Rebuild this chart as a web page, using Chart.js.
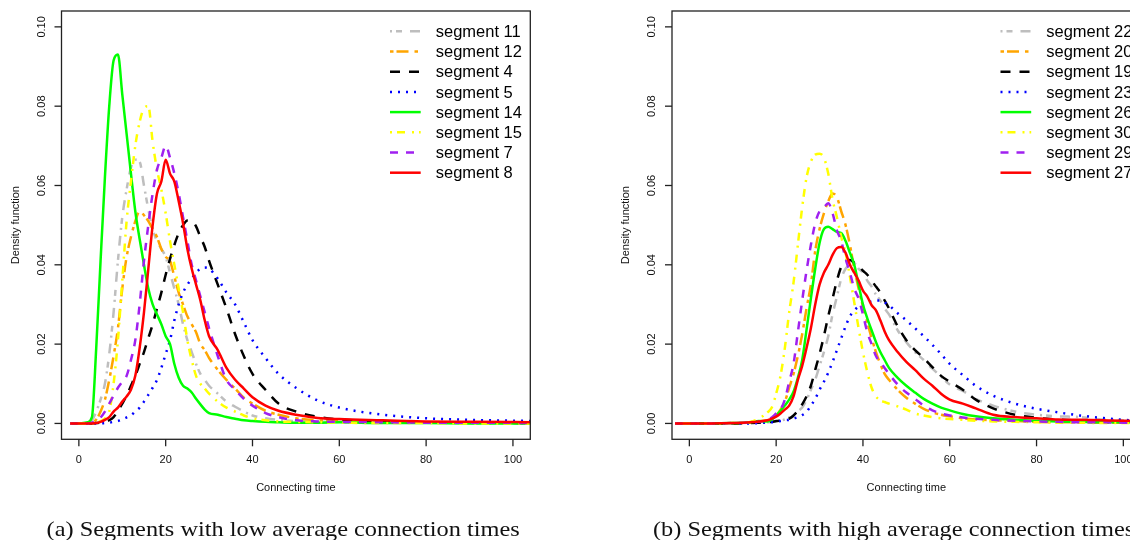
<!DOCTYPE html>
<html>
<head>
<meta charset="utf-8">
<script src="https://cdn.jsdelivr.net/npm/chart.js@4.4.1/dist/chart.umd.min.js"></script>
<style>
  html, body { margin: 0; padding: 0; background: #fff; }
  #page { position: relative; width: 1130px; height: 540px; overflow: hidden; }
  canvas { position: absolute; top: 0; }
  #cvLow { left: 0; }
  #cvHigh { left: 565px; }
  .caption {
    position: absolute; top: 519px; white-space: nowrap;
    font-family: "Liberation Serif", "Times New Roman", serif;
    font-size: 21px; line-height: 21px; color: #111;
    transform-origin: center top;
  }
</style>
</head>
<body>
<div id="page">
  <canvas id="cvLow" width="565" height="540"></canvas>
  <canvas id="cvHigh" width="600" height="540"></canvas>
  <div class="caption" id="capLow">(a) Segments with low average connection times</div>
  <div class="caption" id="capHigh">(b) Segments with high average connection times</div>
</div>
<script>
// ---- data ----
const xTicks = [0, 20, 40, 60, 80, 100];
const yTicks = [0, 0.02, 0.04, 0.06, 0.08, 0.10];
const yTickLabels = ['0.00', '0.02', '0.04', '0.06', '0.08', '0.10'];
const xTitle = 'Connecting time';
const yTitle = 'Density function';

// panel (a)
const lowLabels = ['segment 11', 'segment 12', 'segment 4', 'segment 5', 'segment 14', 'segment 15', 'segment 7', 'segment 8'];
const lowX = [-2, 0, 2, 3, 4, 5, 6, 7, 8, 9, 10, 11, 12, 13, 14, 15, 16, 17, 18, 19, 20, 21, 22, 23, 24, 25, 26, 27, 28, 29,
  30, 32, 34, 36, 38, 40, 43, 46, 50, 55, 60, 70, 80, 90, 106];
const seg11 = [0, 0, 0.0002, 0.0008, 0.003, 0.006, 0.010, 0.0175, 0.028, 0.041, 0.052, 0.059, 0.0645, 0.0665, 0.066, 0.060, 0.054, 0.049, 0.046, 0.044,
  0.042, 0.038, 0.034, 0.030, 0.025, 0.021, 0.018, 0.015, 0.0125, 0.011, 0.0095, 0.0075, 0.0055, 0.0042, 0.003, 0.002, 0.0013, 0.0009, 0.0006, 0.0004,
  0.0004, 0.0002, 0.0002, 0.0001, 0.0001];
const seg12 = [0, 0, 0, 0.0002, 0.001, 0.003, 0.006, 0.011, 0.017, 0.024, 0.034, 0.042, 0.047, 0.051, 0.0535, 0.0525, 0.051, 0.049, 0.047, 0.044,
  0.042, 0.041, 0.037, 0.033, 0.030, 0.027, 0.025, 0.023, 0.020, 0.0185, 0.0165, 0.0135, 0.011, 0.0088, 0.0065, 0.005, 0.0032, 0.0022, 0.0013, 0.0008,
  0.0006, 0.0004, 0.0003, 0.0002, 0.0001];
const seg4 = [0, 0, 0, 0, 0.0001, 0.0002, 0.0004, 0.0008, 0.0016, 0.0032, 0.005, 0.007, 0.0095, 0.012, 0.015, 0.018, 0.0215, 0.025, 0.029, 0.033,
  0.0375, 0.0415, 0.045, 0.048, 0.050, 0.0512, 0.051, 0.0497, 0.047, 0.0445, 0.041, 0.035, 0.029, 0.0225, 0.017, 0.0125, 0.0085, 0.005, 0.003, 0.0017,
  0.001, 0.0005, 0.0003, 0.0002, 0.0001];
const seg5 = [0, 0, 0, 0, 0, 0, 0.0001, 0.0002, 0.0004, 0.0006, 0.001, 0.0015, 0.002, 0.003, 0.004, 0.0055, 0.0072, 0.009, 0.011, 0.014,
  0.0175, 0.021, 0.026, 0.030, 0.033, 0.035, 0.0365, 0.038, 0.039, 0.0393, 0.039, 0.0365, 0.033, 0.030, 0.0255, 0.021, 0.0165, 0.0125, 0.009, 0.0058,
  0.004, 0.0022, 0.0013, 0.0009, 0.0006];
const seg14 = [0, 0, 0.0003, 0.0015, 0.019, 0.041, 0.062, 0.080, 0.0915, 0.093, 0.083, 0.073, 0.063, 0.0535, 0.0465, 0.040, 0.034, 0.030, 0.0275, 0.025,
  0.022, 0.020, 0.015, 0.0115, 0.0095, 0.0088, 0.0078, 0.0062, 0.0048, 0.0035, 0.0026, 0.0022, 0.0016, 0.0012, 0.0008, 0.0006, 0.0004, 0.0003, 0.0002, 0.0002,
  0.0003, 0.0001, 0.0001, 0, 0];
const seg15 = [0, 0, 0, 0, 0.0002, 0.0006, 0.0012, 0.003, 0.010, 0.021, 0.036, 0.051, 0.061, 0.070, 0.076, 0.0795, 0.080, 0.071, 0.064, 0.059,
  0.053, 0.046, 0.040, 0.034, 0.028, 0.021, 0.016, 0.012, 0.010, 0.0088, 0.0075, 0.0055, 0.004, 0.003, 0.002, 0.0013, 0.0008, 0.0005, 0.0004, 0.0003,
  0.0002, 0.0001, 0.0001, 0, 0];
const seg7 = [0, 0, 0, 0.0002, 0.0006, 0.0015, 0.003, 0.005, 0.007, 0.009, 0.0105, 0.012, 0.016, 0.021, 0.030, 0.041, 0.050, 0.058, 0.064, 0.067,
  0.070, 0.067, 0.063, 0.058, 0.052, 0.046, 0.040, 0.036, 0.032, 0.028, 0.024, 0.017, 0.011, 0.0085, 0.0062, 0.0045, 0.0026, 0.0016, 0.0008, 0.0005,
  0.0004, 0.0003, 0.0002, 0.0002, 0.0001];
const seg8 = [0, 0, 0, 0, 0.0001, 0.0004, 0.0009, 0.0016, 0.003, 0.004, 0.0055, 0.0068, 0.0085, 0.012, 0.019, 0.028, 0.039, 0.050, 0.058, 0.061,
  0.0665, 0.063, 0.061, 0.056, 0.0505, 0.044, 0.039, 0.035, 0.031, 0.026, 0.022, 0.0185, 0.014, 0.011, 0.0088, 0.0066, 0.0045, 0.0032, 0.0022, 0.0014,
  0.0011, 0.0008, 0.0005, 0.0004, 0.0003];

// panel (b)
const highLabels = ['segment 22', 'segment 20', 'segment 19', 'segment 23', 'segment 26', 'segment 30', 'segment 29', 'segment 27'];
const highX = [-3.3, 0, 5, 10, 14, 16, 18, 19, 20, 21, 22, 23, 24, 25, 26, 27, 28, 29, 30, 31, 32, 33, 34, 35, 36, 37, 38, 39, 40, 41,
  42, 43, 44, 45, 46, 48, 50, 52, 54, 56, 58, 60, 63, 66, 70, 75, 80, 85, 90, 95, 100, 106];
const seg22 = [0, 0, 0, 0, 0.0001, 0.0002, 0.0003, 0.0004, 0.0005, 0.0007, 0.001, 0.0015, 0.0018, 0.003, 0.004, 0.0059, 0.0085, 0.011, 0.0145, 0.018,
  0.022, 0.0275, 0.032, 0.0365, 0.039, 0.040, 0.0403, 0.039, 0.038, 0.036, 0.0345, 0.0325, 0.031, 0.029, 0.0275, 0.0235, 0.0205, 0.018, 0.016, 0.0138,
  0.0118, 0.0098, 0.0082, 0.0062, 0.0045, 0.003, 0.0022, 0.0018, 0.0016, 0.001, 0.0008, 0.0006];
const seg20 = [0, 0, 0, 0, 0.0002, 0.0005, 0.0008, 0.001, 0.002, 0.0035, 0.0055, 0.009, 0.0125, 0.017, 0.0225, 0.029, 0.035, 0.0435, 0.049, 0.053,
  0.056, 0.058, 0.057, 0.0535, 0.050, 0.045, 0.039, 0.034, 0.0295, 0.0255, 0.0215, 0.018, 0.015, 0.0125, 0.011, 0.0085, 0.0065, 0.005, 0.0037, 0.0028,
  0.0022, 0.0018, 0.0013, 0.001, 0.0008, 0.0006, 0.0004, 0.0003, 0.0003, 0.0002, 0.0002, 0.0001];
const seg19 = [0, 0, 0, 0, 0.0001, 0.0002, 0.0003, 0.0004, 0.0006, 0.0007, 0.0008, 0.0012, 0.002, 0.0032, 0.0048, 0.0068, 0.0095, 0.0135, 0.0175, 0.022,
  0.027, 0.0315, 0.036, 0.0395, 0.041, 0.0412, 0.0405, 0.0397, 0.0385, 0.0375, 0.036, 0.0345, 0.033, 0.031, 0.029, 0.0245, 0.021, 0.0185, 0.0165, 0.0142,
  0.012, 0.0105, 0.0085, 0.006, 0.0038, 0.0022, 0.0014, 0.001, 0.0007, 0.0005, 0.0004, 0.0003];
const seg23 = [0, 0, 0, 0, 0, 0.0001, 0.0002, 0.0003, 0.0004, 0.0006, 0.0008, 0.0009, 0.0012, 0.0016, 0.0021, 0.0029, 0.0045, 0.0062, 0.0085, 0.0105,
  0.0128, 0.0155, 0.0185, 0.0215, 0.0245, 0.027, 0.0285, 0.0295, 0.030, 0.0305, 0.0308, 0.031, 0.031, 0.0305, 0.0298, 0.0278, 0.026, 0.024, 0.022, 0.0198,
  0.0175, 0.015, 0.0122, 0.0095, 0.007, 0.005, 0.0037, 0.0028, 0.002, 0.0014, 0.0009, 0.0007];
const seg26 = [0, 0, 0, 0.0001, 0.0003, 0.0006, 0.0005, 0.001, 0.002, 0.0032, 0.0045, 0.006, 0.008, 0.0115, 0.016, 0.0236, 0.0315, 0.039, 0.0455, 0.049,
  0.0496, 0.049, 0.0483, 0.048, 0.046, 0.043, 0.040, 0.035, 0.030, 0.0265, 0.0235, 0.0205, 0.018, 0.016, 0.014, 0.0115, 0.0095, 0.0078, 0.0062, 0.005,
  0.004, 0.0033, 0.0024, 0.0018, 0.0013, 0.0009, 0.0007, 0.0005, 0.0004, 0.0003, 0.0003, 0.0002];
const seg30 = [0, 0, 0, 0.0001, 0.0004, 0.0012, 0.0028, 0.004, 0.0075, 0.012, 0.019, 0.028, 0.0355, 0.045, 0.0545, 0.062, 0.066, 0.0678, 0.068, 0.067,
  0.063, 0.0565, 0.052, 0.047, 0.043, 0.037, 0.0305, 0.024, 0.018, 0.013, 0.009, 0.0068, 0.0058, 0.0054, 0.005, 0.0043, 0.0035, 0.0025, 0.002, 0.0016,
  0.0013, 0.0011, 0.0009, 0.0007, 0.0005, 0.0004, 0.0003, 0.0002, 0.0002, 0.0001, 0.0001, 0.0001];
const seg29 = [0, 0, 0, 0.0001, 0.0002, 0.0004, 0.0008, 0.0015, 0.0025, 0.0035, 0.006, 0.0105, 0.015, 0.023, 0.031, 0.0385, 0.045, 0.0505, 0.0535, 0.0545,
  0.0555, 0.053, 0.0487, 0.046, 0.0415, 0.038, 0.034, 0.0315, 0.0275, 0.023, 0.020, 0.017, 0.0155, 0.014, 0.0125, 0.0098, 0.0078, 0.0062, 0.0045, 0.0033,
  0.0025, 0.002, 0.0015, 0.0012, 0.0009, 0.0007, 0.0005, 0.0004, 0.0003, 0.0003, 0.0002, 0.0002];
const seg27 = [0, 0, 0, 0.0001, 0.0003, 0.0005, 0.0008, 0.0012, 0.0017, 0.0025, 0.0035, 0.0045, 0.0068, 0.011, 0.0145, 0.019, 0.024, 0.030, 0.035, 0.038,
  0.040, 0.0425, 0.0442, 0.0445, 0.043, 0.040, 0.038, 0.036, 0.0335, 0.032, 0.0298, 0.0285, 0.026, 0.0232, 0.021, 0.018, 0.0155, 0.0135, 0.0113, 0.0095,
  0.0075, 0.006, 0.005, 0.0038, 0.0022, 0.0016, 0.0013, 0.001, 0.0009, 0.0008, 0.0007, 0.0006];

// ---- styles (same for both panels, by legend position) ----
const lineColors = ['#BEBEBE', '#FFA500', '#000000', '#0000FF', '#00FF00', '#FFFF00', '#A020F0', '#FF0000'];
const lineDashes = [[2, 4, 6, 8, 10, 6], [3.5, 3, 12, 6], [10, 9], [2, 6], [], [2, 5, 8, 7], [8, 8], []];
const lineWidth = 2.5;

function makeDatasets(labels, xs, series) {
  return series.map((ys, i) => ({
    label: labels[i],
    data: xs.map((x, k) => ({ x: x, y: ys[k] })),
    borderColor: lineColors[i],
    borderDash: lineDashes[i],
    borderWidth: lineWidth,
    pointRadius: 0,
    fill: false,
    cubicInterpolationMode: 'monotone',
    clip: 0,
    order: series.length - i   // last legend entry drawn on top
  }));
}

// R-style frame, ticks, axis titles and legend
const rFrame = {
  id: 'rFrame',
  afterDraw(chart) {
    const { ctx, chartArea: a, scales: { x, y } } = chart;
    ctx.save();
    ctx.strokeStyle = '#222';
    ctx.lineWidth = 1.3;
    ctx.setLineDash([]);
    ctx.strokeRect(a.left, a.top, a.right - a.left, a.bottom - a.top);

    ctx.fillStyle = '#111';
    ctx.font = '11px "Liberation Sans", Arial, sans-serif';
    ctx.textAlign = 'center';
    ctx.textBaseline = 'middle';
    xTicks.forEach(v => {
      const px = x.getPixelForValue(v);
      ctx.beginPath(); ctx.moveTo(px, a.bottom); ctx.lineTo(px, a.bottom + 7); ctx.stroke();
      ctx.fillText(String(v), px, a.bottom + 21);
    });
    yTicks.forEach((v, i) => {
      const py = y.getPixelForValue(v);
      ctx.beginPath(); ctx.moveTo(a.left - 7, py); ctx.lineTo(a.left, py); ctx.stroke();
      ctx.save();
      ctx.translate(a.left - 20, py);
      ctx.rotate(-Math.PI / 2);
      ctx.fillText(yTickLabels[i], 0, 0);
      ctx.restore();
    });
    ctx.fillText(xTitle, (a.left + a.right) / 2, a.bottom + 49);
    ctx.save();
    ctx.translate(a.left - 46, (a.top + a.bottom) / 2);
    ctx.rotate(-Math.PI / 2);
    ctx.fillText(yTitle, 0, 0);
    ctx.restore();

    // legend, no box
    const lx = a.left + 328.5;
    ctx.font = '16.5px "Liberation Sans", Arial, sans-serif';
    ctx.textAlign = 'left';
    ctx.textBaseline = 'alphabetic';
    chart.data.datasets.forEach((ds, i) => {
      const ly = a.top + 20.3 + i * 20.2;
      ctx.strokeStyle = ds.borderColor;
      ctx.lineWidth = ds.borderWidth;
      ctx.setLineDash(ds.borderDash);
      ctx.beginPath(); ctx.moveTo(lx, ly); ctx.lineTo(lx + 30.7, ly); ctx.stroke();
      ctx.setLineDash([]);
      ctx.fillStyle = '#000';
      ctx.fillText(ds.label, lx + 45.7, ly + 5.7);
    });
    ctx.restore();
  }
};

function buildChart(id, datasets, pad) {
  return new Chart(document.getElementById(id), {
    type: 'line',
    data: { datasets: datasets },
    options: {
      responsive: false,
      animation: false,
      devicePixelRatio: 1,
      layout: { padding: pad },
      plugins: { legend: { display: false }, tooltip: { enabled: false } },
      scales: {
        x: { type: 'linear', min: -4, max: 104, display: false },
        y: { type: 'linear', min: -0.004, max: 0.104, display: false }
      }
    },
    plugins: [rFrame]
  });
}

buildChart('cvLow', makeDatasets(lowLabels, lowX, [seg11, seg12, seg4, seg5, seg14, seg15, seg7, seg8]),
  { left: 61.5, right: 34.7, top: 11, bottom: 100.7 });
buildChart('cvHigh', makeDatasets(highLabels, highX, [seg22, seg20, seg19, seg23, seg26, seg30, seg29, seg27]),
  { left: 107, right: 24.3, top: 11, bottom: 100.7 });

// captions: stretch the serif text to the width seen in the picture
const capLow = document.getElementById('capLow');
const capHigh = document.getElementById('capHigh');
const sx = 473 / capLow.offsetWidth;
[[capLow, 283], [capHigh, 893.5]].forEach(([el, cx]) => {
  el.style.left = (cx - el.offsetWidth / 2) + 'px';
  el.style.transform = 'scaleX(' + sx.toFixed(3) + ')';
});
</script>
</body>
</html>
